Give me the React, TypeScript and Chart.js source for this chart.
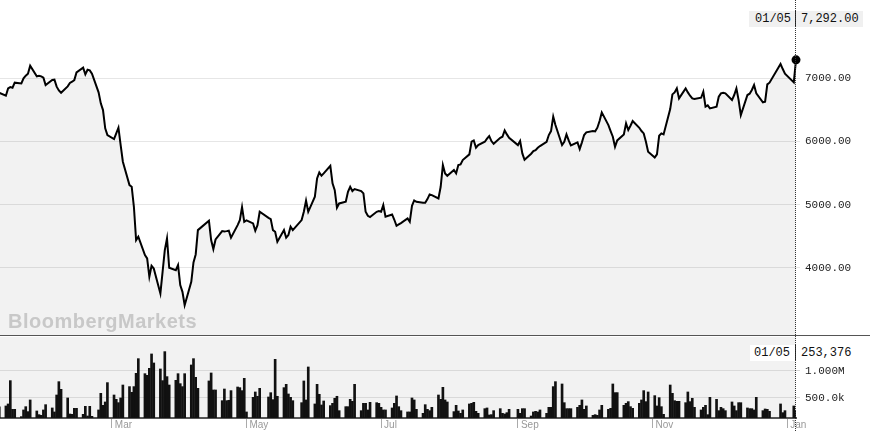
import React, { useEffect, useRef } from "react";
import { Chart, registerables } from "chart.js";

Chart.register(...registerables);

// ---- Calendar -------------------------------------------------------------
const START_DATE = "2020-01-10";
const HOLIDAYS = [
  "2020-04-10", "2020-04-13", "2020-05-08", "2020-05-25",
  "2020-08-31", "2020-12-25", "2020-12-28", "2021-01-01",
];

// ---- Price (close), one value per trading day -----------------------------
const priceJan20 = [6772, 6725, 6841, 6862, 6852, 6931, 6920, 7000, 7042, 7073, 7200, 7031, 7042, 7031, 7010, 6894];
const priceFeb20 = [6973, 6978, 6868, 6809, 6772, 6873, 6926, 6947, 6973, 7094, 7168, 7063, 7136, 7126, 7073, 6778, 6604, 6498, 6208, 6103];
const priceMar20 = [6039, 6129, 6219, 5944, 5681, 5311, 5285, 4968, 4441, 4494, 4204, 4151, 3861, 4035, 3993, 3597, 3940, 4283, 4467, 4003, 3966, 4045];
const priceApr20 = [3729, 3623, 3412, 3782, 4088, 4214, 4599, 4747, 4441, 4299, 4452, 4583, 4578, 4583, 4589, 4478, 4678, 4757, 4963, 4731];
const priceMay20 = [4752, 4705, 4589, 4678, 4889, 4794, 4773, 4599, 4573, 4415, 4599, 4478, 4520, 4652, 4599, 4757, 4889, 5064, 4889];
const priceJun20 = [5127, 5417, 5512, 5459, 5496, 5617, 5338, 5232, 4953, 5021, 5048, 5206, 5285, 5217, 5248, 5217, 5180, 4889, 4826, 4805, 4889, 4900];
const priceJul20 = [4889, 4995, 4810, 4847, 4763, 4668, 4689, 4710, 4784, 4731, 4984, 5069, 5048, 5032, 5032, 5090, 5164, 5153, 5100, 5285, 5628, 5496, 5459];
const priceAug20 = [5549, 5496, 5628, 5638, 5707, 5797, 5997, 6018, 5902, 5944, 5997, 6045, 6087, 6008, 5965, 6060, 6076, 6176, 6113, 6060];
const priceSep20 = [5944, 6008, 5812, 5712, 5807, 5849, 5865, 5902, 5929, 5997, 6103, 6166, 6393, 6261, 5944, 5997, 6113, 6018, 5939, 5987, 5881, 5987];
const priceOct20 = [6103, 6145, 6166, 6161, 6219, 6324, 6461, 6261, 6166, 6076, 5918, 6018, 6113, 6287, 6182, 6250, 6324, 6218, 6166, 6129, 5997, 5839];
const priceNov20 = [5749, 5797, 6092, 6129, 6113, 6514, 6746, 6778, 6841, 6683, 6841, 6778, 6725, 6683, 6672, 6693, 6788, 6551, 6572, 6525, 6551];
const priceDec20 = [6709, 6762, 6772, 6762, 6656, 6736, 6841, 6656, 6419, 6736, 6757, 6815, 6894, 6762, 6619, 6630, 6904, 6931, 7226, 7147, 7073];
const priceJan21 = [6936, 7292];

// ---- Volume (thousands), one value per trading day ------------------------
const volJan20 = [330, 347, 384, 816, 285, 285, 149, 273, 334, 242, 458, 254, 186, 174, 273, 371];
const volFeb20 = [310, 236, 550, 797, 655, 495, 198, 192, 303, 303, 192, 340, 161, 340, 155, 273, 581, 359, 421, 779];
const volMar20 = [550, 470, 408, 495, 735, 705, 600, 705, 951, 1223, 945, 914, 1044, 1310, 1143, 1032, 816, 1353, 890, 735, 822, 945];
const volApr20 = [760, 705, 945, 1106, 1223, 877, 674, 810, 958, 643, 643, 445, 661, 445, 452, 631, 698, 686, 631, 859];
const volMay20 = [236, 507, 606, 526, 674, 513, 593, 464, 1211, 526, 686, 748, 569, 507, 445, 408, 810, 458, 1069];
const volJun20 = [384, 748, 563, 365, 439, 353, 396, 489, 526, 260, 334, 334, 470, 433, 748, 260, 396, 396, 273, 414, 408, 396];
const volJul20 = [322, 273, 273, 310, 396, 532, 334, 260, 236, 236, 495, 458, 285, 211, 371, 285, 260, 322, 550, 470, 692, 458, 421];
const volAug20 = [242, 359, 254, 211, 273, 384, 396, 414, 248, 211, 297, 310, 180, 186, 260, 297, 211, 198, 223, 285];
const volSep20 = [285, 211, 297, 297, 161, 236, 248, 236, 273, 211, 322, 322, 705, 797, 754, 408, 297, 297, 297, 322, 359, 458];
const volOct20 = [285, 347, 174, 186, 174, 273, 359, 285, 303, 754, 594, 594, 359, 396, 427, 334, 303, 396, 458, 631, 427, 606];
const volNov20 = [538, 347, 501, 334, 192, 735, 581, 445, 433, 433, 408, 606, 427, 489, 322, 273, 322, 359, 186, 507, 470];
const volDec20 = [260, 322, 297, 260, 421, 347, 260, 408, 408, 310, 297, 297, 273, 507, 260, 291, 285, 248, 384, 223, 260];
const volJan21 = [347, 253.376];

// ---- Axis ticks -------------------------------------------------------------
const MONTH_TICKS = ["2020-03-01", "2020-05-01", "2020-07-01", "2020-09-01", "2020-11-01", "2021-01-01"];
const MONTH_LABELS = ["Mar", "May", "Jul", "Sep", "Nov", "Jan"];
const PRICE_TICKS = [4000, 5000, 6000, 7000];
const VOLUME_TICKS = [500, 1000];

const PRICES = [
  ...priceJan20, ...priceFeb20, ...priceMar20, ...priceApr20, ...priceMay20, ...priceJun20,
  ...priceJul20, ...priceAug20, ...priceSep20, ...priceOct20, ...priceNov20, ...priceDec20, ...priceJan21,
];
const VOLUMES = [
  ...volJan20, ...volFeb20, ...volMar20, ...volApr20, ...volMay20, ...volJun20,
  ...volJul20, ...volAug20, ...volSep20, ...volOct20, ...volNov20, ...volDec20, ...volJan21,
];

const DAY_MS = 86400000;
const EPOCH = Date.UTC(2020, 0, 1);
function dayNumber(iso: string): number {
  const [y, m, d] = iso.split("-").map(Number);
  return (Date.UTC(y, m - 1, d) - EPOCH) / DAY_MS;
}
function tradingDays(start: string, count: number): string[] {
  const hol = new Set(HOLIDAYS);
  const [y, m, d] = start.split("-").map(Number);
  let t = Date.UTC(y, m - 1, d);
  const out: string[] = [];
  while (out.length < count) {
    const dt = new Date(t);
    const wd = dt.getUTCDay();
    const iso = dt.toISOString().slice(0, 10);
    if (wd !== 0 && wd !== 6 && !hol.has(iso)) out.push(iso);
    t += DAY_MS;
  }
  return out;
}

const DATES = tradingDays(START_DATE, PRICES.length);
const X_MIN = 9.33;
const X_MAX = dayNumber(DATES[DATES.length - 1]);

const MONO = '"Liberation Mono", "DejaVu Sans Mono", monospace';
const SANS = '"Liberation Sans", Arial, sans-serif';

const lastDate = DATES[DATES.length - 1];
const lastDateLabel = `${lastDate.slice(5, 7)}/${lastDate.slice(8, 10)}`;
const lastPriceLabel = PRICES[PRICES.length - 1].toLocaleString("en-US", { minimumFractionDigits: 2, maximumFractionDigits: 2 });
const lastVolumeLabel = Math.round(VOLUMES[VOLUMES.length - 1] * 1000).toLocaleString("en-US");

const panelBg = {
  id: "panelBg",
  beforeDraw(chart: any) {
    const { ctx, chartArea } = chart;
    ctx.save();
    ctx.fillStyle = "#f2f2f2";
    ctx.fillRect(chartArea.left, chartArea.top, chartArea.right - chartArea.left, chartArea.bottom - chartArea.top);
    ctx.restore();
  },
};

export default function App() {
  const priceRef = useRef<HTMLCanvasElement>(null);
  const volRef = useRef<HTMLCanvasElement>(null);

  useEffect(() => {
    const n = PRICES.length;
    const priceChart = new Chart(priceRef.current!, {
      type: "line",
      data: {
        datasets: [
          {
            data: DATES.map((d, i) => ({ x: dayNumber(d), y: PRICES[i] })),
            borderColor: "#000",
            borderWidth: 2,
            pointRadius: (ctx: any) => (ctx.dataIndex === n - 1 ? 4.5 : 0),
            pointBackgroundColor: "#000",
            pointBorderWidth: 0,
            fill: "start",
            backgroundColor: "rgba(0,0,0,0.05)",
            tension: 0,
            clip: false,
          } as any,
        ],
      },
      options: {
        responsive: false,
        animation: false,
        layout: { padding: 0, autoPadding: false },
        plugins: { legend: { display: false }, tooltip: { enabled: false } },
        scales: {
          x: { type: "linear", min: X_MIN, max: X_MAX, display: false },
          y: {
            position: "right",
            min: 2940,
            max: 8239,
            afterBuildTicks: (s: any) => {
              s.ticks = PRICE_TICKS.map((v) => ({ value: v }));
            },
            afterFit: (s: any) => {
              s.width = 83;
              s.paddingTop = 0;
              s.paddingBottom = 0;
            },
            grid: { color: "#e6e6e6", tickLength: 4 },
            border: { display: false },
            ticks: {
              padding: 5,
              color: "#222",
              font: { family: MONO, size: 11 },
              callback: (v: any) => Number(v).toFixed(2),
            },
          },
        },
      } as any,
    });

    const volChart = new Chart(volRef.current!, {
      type: "bar",
      data: {
        datasets: [
          {
            data: DATES.map((d, i) => ({ x: dayNumber(d), y: VOLUMES[i] })),
            backgroundColor: "#111",
            barThickness: 2,
          } as any,
        ],
      },
      options: {
        responsive: false,
        animation: false,
        layout: { padding: { top: 1, left: 0, right: 0, bottom: 0 }, autoPadding: false },
        plugins: { legend: { display: false }, tooltip: { enabled: false } },
        scales: {
          x: {
            type: "linear",
            min: X_MIN,
            max: X_MAX,
            offset: false,
            afterBuildTicks: (s: any) => {
              s.ticks = MONTH_TICKS.map((d) => ({ value: dayNumber(d) }));
            },
            afterFit: (s: any) => {
              s.height = 13;
              s.paddingLeft = 0;
              s.paddingRight = 0;
            },
            grid: { offset: false, drawOnChartArea: false, drawTicks: true, tickLength: 10, color: "#aaa" },
            border: { display: true, color: "#555", width: 2 },
            ticks: {
              autoSkip: false,
              maxRotation: 0,
              align: "start",
              labelOffset: 3,
              padding: -9,
              color: "#999",
              font: { family: SANS, size: 10 },
              callback: (_v: any, i: number) => MONTH_LABELS[i],
            },
          },
          y: {
            position: "right",
            min: 124,
            max: 1624,
            afterBuildTicks: (s: any) => {
              s.ticks = VOLUME_TICKS.map((v) => ({ value: v }));
            },
            afterFit: (s: any) => {
              s.width = 83;
              s.paddingTop = 0;
              s.paddingBottom = 0;
            },
            grid: { color: "#d9d9d9", tickLength: 4 },
            border: { display: false },
            ticks: {
              padding: 5,
              color: "#222",
              font: { family: MONO, size: 11 },
              callback: (v: any) => (v >= 1000 ? (v / 1000).toFixed(3) + "M" : Number(v).toFixed(1) + "k"),
            },
          },
        },
      } as any,
      plugins: [panelBg],
    });

    return () => {
      priceChart.destroy();
      volChart.destroy();
    };
  }, []);

  const labelText: React.CSSProperties = {
    position: "absolute",
    top: 0,
    fontFamily: MONO,
    fontSize: 12,
    lineHeight: "16px",
    color: "#111",
    whiteSpace: "nowrap",
  };

  return (
    <div style={{ position: "absolute", left: 0, top: 0, width: 879, height: 431, background: "#fff", overflow: "hidden" }}>
      <canvas ref={priceRef} width={879} height={335} style={{ position: "absolute", left: 0, top: 0, display: "block" }} />
      <canvas ref={volRef} width={879} height={95} style={{ position: "absolute", left: 0, top: 336, display: "block" }} />
      <div style={{ position: "absolute", left: 0, top: 335, width: 870, height: 1, background: "#555" }} />
      <div
        style={{
          position: "absolute",
          left: 8,
          top: 311,
          fontFamily: SANS,
          fontWeight: "bold",
          fontSize: 20,
          lineHeight: "20px",
          letterSpacing: 0.5,
          color: "#c8c8c8",
          whiteSpace: "nowrap",
        }}
      >
        BloombergMarkets
      </div>
      <div style={{ position: "absolute", left: 749, top: 11, width: 114, height: 16, background: "#f0f0f0" }}>
        <span style={{ ...labelText, left: 6 }}>{lastDateLabel}</span>
        <div style={{ position: "absolute", left: 46, top: 0, width: 1, height: 16, background: "#222" }} />
        <span style={{ ...labelText, left: 52 }}>{lastPriceLabel}</span>
      </div>
      <div style={{ position: "absolute", left: 750, top: 345, width: 107, height: 16, background: "#fff" }}>
        <span style={{ ...labelText, left: 4 }}>{lastDateLabel}</span>
        <div style={{ position: "absolute", left: 45, top: 0, width: 1, height: 16, background: "#222" }} />
        <span style={{ ...labelText, left: 51 }}>{lastVolumeLabel}</span>
      </div>
      <div style={{ position: "absolute", left: 795, top: 0, width: 0, height: 431, borderLeft: "1px dotted #333" }} />
    </div>
  );
}
